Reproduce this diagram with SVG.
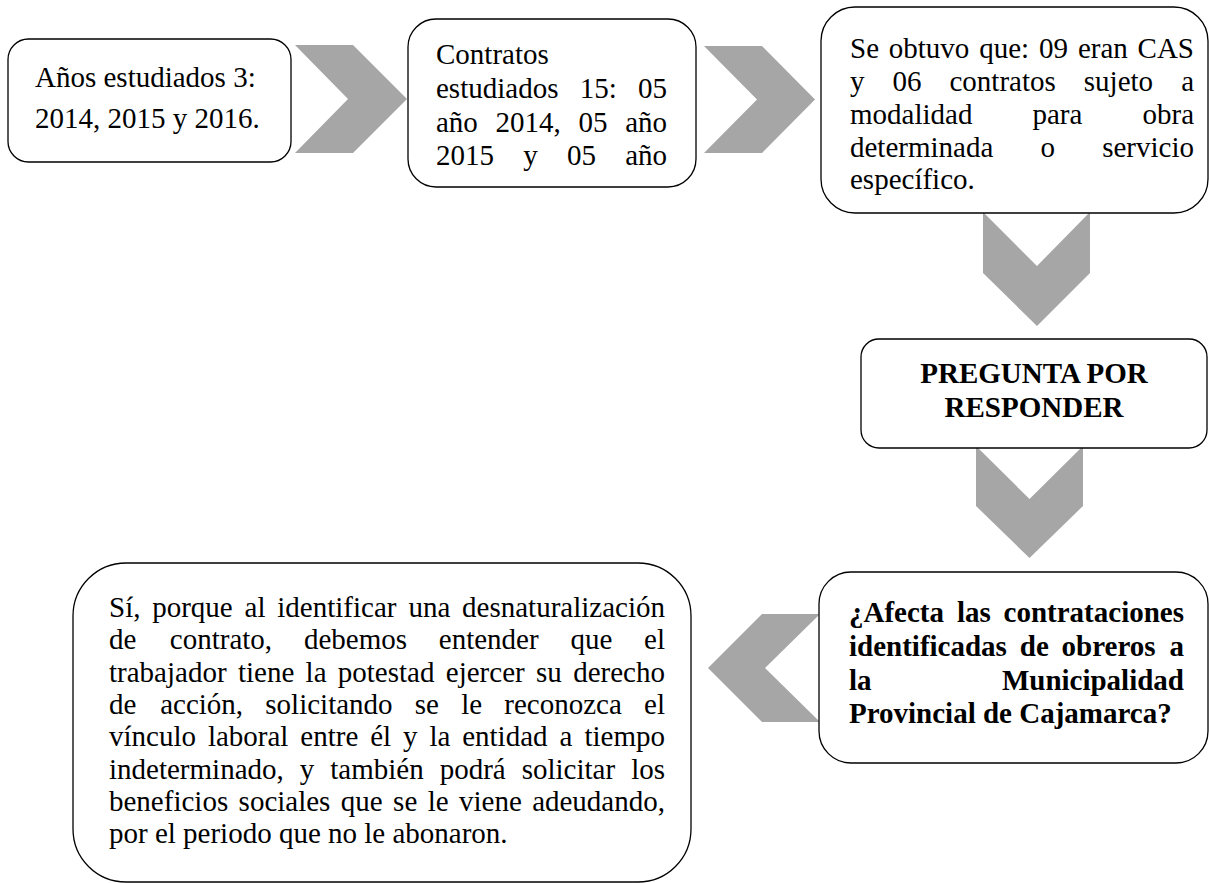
<svg xmlns="http://www.w3.org/2000/svg" width="1209" height="883" viewBox="0 0 1209 883">
<style>
.box{fill:#fff;stroke:#000;stroke-width:1.3}
.chev{fill:#a6a6a6;stroke:none}
.t{font-family:'Liberation Serif','Times New Roman',serif;font-size:29px;fill:#000}
.b{font-weight:bold}
.e{text-anchor:end}
</style>
<rect width="1209" height="883" fill="#fff"/>
<g id="connectors">
<polygon class="chev" points="295,45 353,45 407,99 353,153 295,153 348,99"/>
<polygon class="chev" points="704,46 762,46 815,99.5 762,153 704,153 757,99.5"/>
<polygon class="chev" points="983,212 1037,266 1090,212 1090,273 1037,326 983,273"/>
<polygon class="chev" points="976,446 1029.5,499 1083,446 1083,506 1029.5,558 976,506"/>
<polygon class="chev" points="820,614 762,614 708,668 762,722 820,722 765,668"/>
</g>
<g id="n1">
<rect class="box" x="8" y="39" width="283" height="123" rx="20.5"/>
<text class="t" x="35" y="87">Años estudiados 3:</text>
<text class="t" x="35" y="128">2014, 2015 y 2016.</text>
</g>
<g id="n2">
<rect class="box" x="408" y="19" width="288" height="168" rx="28"/>
<text class="t" x="436" y="64">Contratos</text>
<text class="t" y="98"><tspan x="436">estudiados</tspan><tspan x="579.7">15:</tspan></text>
<text class="t e" x="667" y="98">05</text>
<text class="t" y="131.5"><tspan x="436">año</tspan><tspan x="495.5">2014,</tspan><tspan x="578.4">05</tspan></text>
<text class="t e" x="667" y="131.5">año</text>
<text class="t" y="165"><tspan x="436">2015</tspan><tspan x="523.2">y</tspan><tspan x="566.9">05</tspan></text>
<text class="t e" x="667" y="165">año</text>
</g>
<g id="n3">
<rect class="box" x="821" y="7" width="387" height="206" rx="34"/>
<text class="t" y="58"><tspan x="850">Se</tspan><tspan x="888.8">obtuvo</tspan><tspan x="979.2">que:</tspan><tspan x="1039">09</tspan><tspan x="1077.9">eran</tspan></text>
<text class="t e" x="1194" y="58">CAS</text>
<text class="t" y="91"><tspan x="850">y</tspan><tspan x="892.5">06</tspan><tspan x="949.5">contratos</tspan><tspan x="1083.8">sujeto</tspan></text>
<text class="t e" x="1194" y="91">a</text>
<text class="t" y="124"><tspan x="850">modalidad</tspan><tspan x="1032.5">para</tspan></text>
<text class="t e" x="1194" y="124">obra</text>
<text class="t" y="157"><tspan x="850">determinada</tspan><tspan x="1040.5">o</tspan></text>
<text class="t e" x="1194" y="157">servicio</text>
<text class="t" x="850" y="189">específico.</text>
</g>
<g id="n4">
<rect class="box" x="861" y="339" width="346" height="109" rx="18"/>
<text class="t b" text-anchor="middle" x="1034" y="383">PREGUNTA POR</text>
<text class="t b" text-anchor="middle" x="1034" y="417">RESPONDER</text>
</g>
<g id="n5">
<rect class="box" x="819" y="572" width="389" height="191" rx="32"/>
<text class="t b" y="622"><tspan x="849">¿Afecta</tspan><tspan x="956.9">las</tspan></text>
<text class="t b e" x="1184" y="622">contrataciones</text>
<text class="t b" y="656"><tspan x="849">identificadas</tspan><tspan x="1019.8">de</tspan><tspan x="1061.6">obreros</tspan></text>
<text class="t b e" x="1184" y="656">a</text>
<text class="t b" x="849" y="689.5">la</text>
<text class="t b e" x="1184" y="689.5">Municipalidad</text>
<text class="t b" x="849" y="723">Provincial de Cajamarca?</text>
</g>
<g id="n6">
<rect class="box" x="73" y="563" width="618" height="319" rx="53"/>
<text class="t" y="617"><tspan x="109">Sí,</tspan><tspan x="152.2">porque</tspan><tspan x="244.6">al</tspan><tspan x="277.3">identificar</tspan><tspan x="408.4">una</tspan></text>
<text class="t e" x="665" y="617">desnaturalización</text>
<text class="t" y="649.3"><tspan x="109">de</tspan><tspan x="169.8">contrato,</tspan><tspan x="303.9">debemos</tspan><tspan x="438.8">entender</tspan><tspan x="570.4">que</tspan></text>
<text class="t e" x="665" y="649.3">el</text>
<text class="t" y="681.6"><tspan x="109">trabajador</tspan><tspan x="237.9">tiene</tspan><tspan x="305.6">la</tspan><tspan x="337.8">potestad</tspan><tspan x="445.8">ejercer</tspan><tspan x="536">su</tspan></text>
<text class="t e" x="665" y="681.6">derecho</text>
<text class="t" y="713.9"><tspan x="109">de</tspan><tspan x="160.2">acción,</tspan><tspan x="265.3">solicitando</tspan><tspan x="414.8">se</tspan><tspan x="461.2">le</tspan><tspan x="504.3">reconozca</tspan></text>
<text class="t e" x="665" y="713.9">el</text>
<text class="t" y="746.2"><tspan x="109">vínculo</tspan><tspan x="207.9">laboral</tspan><tspan x="300.3">entre</tspan><tspan x="370.2">él</tspan><tspan x="403">y</tspan><tspan x="429.4">la</tspan><tspan x="462.2">entidad</tspan><tspan x="559.5">a</tspan></text>
<text class="t e" x="665" y="746.2">tiempo</text>
<text class="t" y="778.5"><tspan x="109">indeterminado,</tspan><tspan x="299.8">y</tspan><tspan x="330.3">también</tspan><tspan x="439.7">podrá</tspan><tspan x="521.7">solicitar</tspan></text>
<text class="t e" x="665" y="778.5">los</text>
<text class="t" y="810.8"><tspan x="109">beneficios</tspan><tspan x="238.6">sociales</tspan><tspan x="340.8">que</tspan><tspan x="393.1">se</tspan><tspan x="427.7">le</tspan><tspan x="459">viene</tspan></text>
<text class="t e" x="665" y="810.8">adeudando,</text>
<text class="t" x="109" y="843">por el periodo que no le abonaron.</text>
</g>
</svg>
